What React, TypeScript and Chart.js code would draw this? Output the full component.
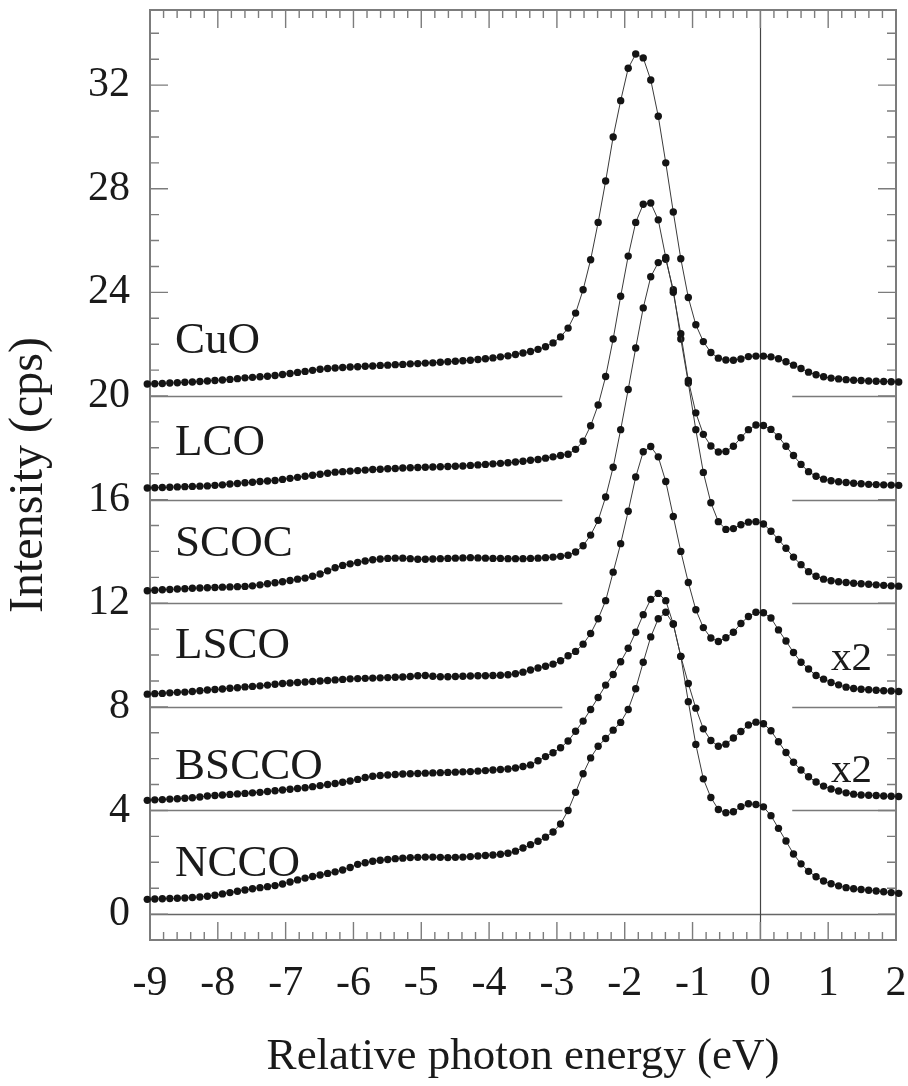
import React, { useEffect, useRef } from "react";
import { Chart, registerables } from "chart.js";

Chart.register(...registerables);

// ---- data -------------------------------------------------------------
const energyStart = -9.04;
const energyStep = 0.1108;
const pointCount = 101;
const energies = Array.from({ length: pointCount }, (_, i) => +(energyStart + i * energyStep).toFixed(4));

const xTickValues = [-9, -8, -7, -6, -5, -4, -3, -2, -1, 0, 1, 2];
const yTickValues = [0, 4, 8, 12, 16, 20, 24, 28, 32];

const cuo = [
  20.46, 20.47, 20.48, 20.5, 20.51, 20.53, 20.54, 20.56, 20.58, 20.6,
  20.62, 20.64, 20.67, 20.7, 20.72, 20.74, 20.76, 20.79, 20.83, 20.87,
  20.91, 20.95, 20.99, 21.03, 21.06, 21.08, 21.1, 21.12, 21.13, 21.15,
  21.16, 21.18, 21.19, 21.21, 21.22, 21.24, 21.25, 21.27, 21.28, 21.3,
  21.32, 21.34, 21.36, 21.38, 21.41, 21.44, 21.47, 21.51, 21.55, 21.6,
  21.66, 21.72, 21.8, 21.9, 22.05, 22.28, 22.62, 23.2, 24.1, 25.26,
  26.7, 28.3, 30.0, 31.4, 32.65, 33.2, 33.05, 32.2, 30.8, 29.0,
  27.1, 25.3, 23.8, 22.75, 22.1, 21.68, 21.46, 21.39, 21.38, 21.43,
  21.52, 21.54, 21.54, 21.51, 21.44, 21.32, 21.19, 21.06, 20.92, 20.82,
  20.74, 20.69, 20.66, 20.63, 20.61, 20.6, 20.58, 20.57, 20.56, 20.55,
  20.54,
];

const lco = [
  16.45, 16.46, 16.47, 16.48, 16.49, 16.5, 16.51, 16.52, 16.53, 16.55,
  16.57, 16.6, 16.62, 16.65, 16.67, 16.7, 16.72, 16.74, 16.78, 16.82,
  16.86, 16.9, 16.94, 16.98, 17.02, 17.06, 17.08, 17.1, 17.12, 17.14,
  17.16, 17.17, 17.19, 17.2, 17.22, 17.23, 17.24, 17.25, 17.26, 17.27,
  17.28, 17.29, 17.3, 17.32, 17.34, 17.36, 17.38, 17.4, 17.42, 17.45,
  17.48, 17.52, 17.55, 17.6, 17.65, 17.7, 17.75, 17.94, 18.25, 18.85,
  19.65, 20.75, 22.2, 23.85, 25.4, 26.7, 27.4, 27.45, 26.8, 25.35,
  24.0, 22.4, 20.6, 19.35, 18.52, 18.07, 17.84, 17.86, 18.06, 18.39,
  18.7, 18.88, 18.86, 18.71, 18.43, 18.06, 17.7, 17.36, 17.08, 16.9,
  16.79, 16.73, 16.69, 16.66, 16.63, 16.61, 16.59, 16.58, 16.57, 16.56,
  16.55,
];

const scoc = [
  12.48, 12.5, 12.52, 12.53, 12.55, 12.56, 12.58, 12.59, 12.6, 12.61,
  12.62, 12.63, 12.64, 12.65, 12.67, 12.71, 12.75, 12.79, 12.83, 12.88,
  12.93, 12.97, 13.04, 13.13, 13.25, 13.37, 13.46, 13.52, 13.57, 13.63,
  13.68, 13.71, 13.73, 13.74, 13.74, 13.72, 13.7, 13.7, 13.71, 13.72,
  13.73, 13.74, 13.75, 13.76, 13.75, 13.74, 13.73, 13.73, 13.72, 13.72,
  13.72, 13.73, 13.74, 13.76, 13.78, 13.81, 13.85, 13.98, 14.22, 14.63,
  15.2, 16.1, 17.25, 18.7, 20.25, 21.85, 23.4, 24.6, 25.15, 25.28,
  24.1, 22.2, 20.5, 18.7, 17.05, 15.88, 15.15, 14.85, 14.88, 15.03,
  15.13, 15.15, 15.06, 14.78, 14.46, 14.12, 13.78, 13.49, 13.22, 13.04,
  12.93, 12.87, 12.83, 12.8, 12.77, 12.75, 12.73, 12.71, 12.69, 12.67,
  12.66,
];

const lsco = [
  8.49, 8.51, 8.52, 8.54, 8.56, 8.57, 8.59, 8.62, 8.65, 8.67,
  8.69, 8.72, 8.74, 8.77, 8.79, 8.81, 8.84, 8.87, 8.9, 8.92,
  8.94, 8.96, 8.98, 9.0, 9.02, 9.04, 9.06, 9.08, 9.09, 9.1,
  9.11, 9.12, 9.13, 9.14, 9.15, 9.17, 9.2, 9.21, 9.18, 9.16,
  9.16, 9.17, 9.18, 9.19, 9.2, 9.2, 9.21, 9.22, 9.24, 9.28,
  9.34, 9.42, 9.5, 9.57, 9.65, 9.78, 9.97, 10.14, 10.42, 10.83,
  11.4, 12.1, 13.2, 14.3, 15.55, 16.87, 17.85, 18.05, 17.65, 16.7,
  15.35, 14.0, 12.8, 11.75, 11.06, 10.66, 10.52, 10.67, 10.88, 11.22,
  11.49, 11.65, 11.63, 11.43, 10.97, 10.54, 10.1, 9.72, 9.46, 9.21,
  9.07, 8.94, 8.85, 8.76, 8.71, 8.68, 8.66, 8.64, 8.62, 8.61,
  8.59,
];

const bscco = [
  4.39, 4.41, 4.42, 4.44, 4.45, 4.47, 4.49, 4.52, 4.56, 4.58,
  4.6, 4.62, 4.64, 4.66, 4.68, 4.7, 4.73, 4.76, 4.79, 4.82,
  4.85, 4.88, 4.92, 4.96, 5.0, 5.04, 5.09, 5.14, 5.2, 5.27,
  5.32, 5.35, 5.37, 5.39, 5.41, 5.42, 5.43, 5.44, 5.45, 5.46,
  5.47, 5.48, 5.49, 5.5, 5.52, 5.54, 5.56, 5.58, 5.6, 5.64,
  5.7, 5.76, 5.92, 6.08, 6.23, 6.42, 6.68, 7.06, 7.45, 7.9,
  8.36, 8.84, 9.25, 9.74, 10.26, 10.88, 11.56, 12.15, 12.38, 12.1,
  11.2, 9.95, 8.9, 7.95, 7.15, 6.7, 6.48, 6.56, 6.8, 7.05,
  7.3, 7.41, 7.35, 7.08, 6.65, 6.24, 5.86, 5.56, 5.3, 5.1,
  4.94, 4.83, 4.75, 4.68, 4.63, 4.6, 4.59, 4.58, 4.56, 4.55,
  4.54,
];

const ncco = [
  0.57, 0.58, 0.59, 0.6, 0.61, 0.62, 0.64, 0.66, 0.69, 0.73,
  0.78, 0.83, 0.88, 0.93, 0.98, 1.02, 1.06, 1.1, 1.16, 1.24,
  1.32, 1.39, 1.45, 1.51, 1.57, 1.63, 1.7, 1.8, 1.92, 1.98,
  2.04, 2.08, 2.11, 2.14, 2.16, 2.18, 2.19, 2.2, 2.2, 2.19,
  2.18, 2.19, 2.2, 2.22, 2.24, 2.26, 2.28, 2.31, 2.35, 2.43,
  2.55, 2.68, 2.81, 2.97, 3.17, 3.48, 4.0, 4.7, 5.42, 6.03,
  6.48, 6.78, 7.1, 7.4, 7.9, 8.7, 9.72, 10.7, 11.4, 11.65,
  11.2, 9.95, 8.2, 6.55, 5.22, 4.5, 4.04, 3.91, 3.95, 4.15,
  4.26, 4.23, 4.14, 3.8, 3.31, 2.82, 2.32, 1.94, 1.65, 1.44,
  1.28, 1.17, 1.09, 1.02, 0.98, 0.95, 0.92, 0.89, 0.86, 0.83,
  0.8,
];

const seriesNames = ["CuO", "LCO", "SCOC", "LSCO", "BSCCO", "NCCO"];
const seriesValues = [cuo, lco, scoc, lsco, bscco, ncco];

// baselines (offset zero levels) drawn as broken horizontal rules
const baselineLevels = [4, 8, 12, 16, 20];
const baselineGapFrom = -2.92;
const baselineGapTo = 0.47;

// text annotations (data coordinates of the text's left/baseline)
const annotationTexts = ["CuO", "LCO", "SCOC", "LSCO", "BSCCO", "NCCO", "x2", "x2"];
const annotationX = [-8.63, -8.63, -8.63, -8.63, -8.63, -8.63, 1.04, 1.04];
const annotationY = [21.66, 17.72, 13.82, 9.88, 5.21, 1.47, 9.42, 5.1];

// ---- styling ----------------------------------------------------------
const FONT = "'Liberation Serif', 'Times New Roman', Times, serif";
const TEXT_COLOR = "#1a1a1a";
const FRAME_COLOR = "#7c7c7c";

const decorPlugin = {
  id: "decor",
  beforeDatasetsDraw(chart: any) {
    const { ctx, chartArea: a, scales } = chart;
    const x = scales.x;
    const y = scales.y;
    ctx.save();

    // broken baselines
    ctx.strokeStyle = "#7a7a7a";
    ctx.lineWidth = 1.5;
    const gx0 = x.getPixelForValue(baselineGapFrom);
    const gx1 = x.getPixelForValue(baselineGapTo);
    for (const lv of baselineLevels) {
      const py = Math.round(y.getPixelForValue(lv)) + 0.5;
      ctx.beginPath();
      ctx.moveTo(a.left, py);
      ctx.lineTo(gx0, py);
      ctx.moveTo(gx1, py);
      ctx.lineTo(a.right, py);
      ctx.stroke();
    }
    // zero line
    const y0 = Math.round(y.getPixelForValue(0)) + 0.5;
    ctx.strokeStyle = "#666";
    ctx.lineWidth = 1.6;
    ctx.beginPath();
    ctx.moveTo(a.left, y0);
    ctx.lineTo(a.right, y0);
    ctx.stroke();

    // vertical line at zero energy
    const x0 = Math.round(x.getPixelForValue(0)) + 0.5;
    ctx.strokeStyle = "#444";
    ctx.lineWidth = 1.2;
    ctx.beginPath();
    ctx.moveTo(x0, a.top);
    ctx.lineTo(x0, a.bottom);
    ctx.stroke();

    // ticks (inside, all four sides)
    ctx.strokeStyle = FRAME_COLOR;
    ctx.lineWidth = 1.4;
    ctx.beginPath();
    for (let k = -45; k <= 10; k++) {
      const v = k / 5;
      const px = x.getPixelForValue(v);
      const len = k % 5 === 0 ? 18 : 8;
      ctx.moveTo(px, a.bottom);
      ctx.lineTo(px, a.bottom - len);
      ctx.moveTo(px, a.top);
      ctx.lineTo(px, a.top + len);
    }
    for (let v = 0; v <= 34; v++) {
      const py = y.getPixelForValue(v);
      const len = v % 4 === 0 ? 18 : 9;
      ctx.moveTo(a.left, py);
      ctx.lineTo(a.left + len, py);
      ctx.moveTo(a.right, py);
      ctx.lineTo(a.right - len, py);
    }
    ctx.stroke();

    // frame
    ctx.strokeStyle = FRAME_COLOR;
    ctx.lineWidth = 2;
    ctx.strokeRect(a.left, a.top, a.right - a.left, a.bottom - a.top);
    ctx.restore();
  },
  afterDatasetsDraw(chart: any) {
    const { ctx, scales } = chart;
    const x = scales.x;
    const y = scales.y;
    ctx.save();
    ctx.fillStyle = TEXT_COLOR;
    ctx.textAlign = "left";
    ctx.textBaseline = "alphabetic";
    annotationTexts.forEach((t, i) => {
      ctx.font = `${t === "x2" ? 41 : 45}px ${FONT}`;
      ctx.fillText(t, x.getPixelForValue(annotationX[i]), y.getPixelForValue(annotationY[i]));
    });
    ctx.restore();
  },
};

export default function App() {
  const canvasRef = useRef<HTMLCanvasElement | null>(null);

  useEffect(() => {
    const canvas = canvasRef.current;
    if (!canvas) return;
    const datasets = seriesNames.map((name, si) => ({
      label: name,
      data: energies.map((e, i) => ({ x: e, y: seriesValues[si][i] })),
      borderColor: "#3a3a3a",
      borderWidth: 1,
      pointRadius: 3.7,
      pointBackgroundColor: "#141414",
      pointBorderColor: "#141414",
      pointBorderWidth: 0,
      pointHoverRadius: 3.7,
      tension: 0,
      fill: false,
      clip: false as any,
    }));

    const chart = new Chart(canvas, {
      type: "line",
      data: { datasets },
      options: {
        animation: false,
        responsive: false,
        maintainAspectRatio: false,
        events: [],
        layout: { padding: { top: 10, right: 12, left: 0, bottom: 0 } },
        plugins: {
          legend: { display: false },
          tooltip: { enabled: false },
        },
        scales: {
          x: {
            type: "linear",
            min: -9,
            max: 2,
            afterBuildTicks: (s: any) => {
              s.ticks = xTickValues.map((v) => ({ value: v }));
            },
            afterFit: (s: any) => {
              s.height = 146;
              s.paddingLeft = 0;
              s.paddingRight = 0;
            },
            grid: { display: false, drawTicks: false },
            border: { display: false },
            ticks: {
              autoSkip: false,
              maxRotation: 0,
              minRotation: 0,
              padding: 19,
              color: TEXT_COLOR,
              font: { family: FONT, size: 42 },
              callback: (v: any) => String(v),
            },
            title: {
              display: true,
              text: "Relative photon energy (eV)",
              color: TEXT_COLOR,
              font: { family: FONT, size: 45 },
              padding: { top: 0, bottom: 2 },
            },
          },
          y: {
            type: "linear",
            min: -1,
            max: 34.9,
            afterBuildTicks: (s: any) => {
              s.ticks = yTickValues.map((v) => ({ value: v }));
            },
            afterFit: (s: any) => {
              s.width = 150;
              s.paddingTop = 0;
              s.paddingBottom = 0;
            },
            grid: { display: false, drawTicks: false },
            border: { display: false },
            ticks: {
              autoSkip: false,
              padding: 20,
              color: TEXT_COLOR,
              font: { family: FONT, size: 42 },
              callback: (v: any) => String(v),
            },
            title: {
              display: true,
              text: "Intensity (cps)",
              color: TEXT_COLOR,
              font: { family: FONT, size: 48 },
              padding: { top: 1, bottom: 0 },
            },
          },
        },
      },
      plugins: [decorPlugin],
    });
    return () => chart.destroy();
  }, []);

  return (
    <div style={{ position: "absolute", left: 0, top: 0, width: 908, height: 1086, background: "#fff" }}>
      <canvas ref={canvasRef} width={908} height={1086} style={{ display: "block" }} />
    </div>
  );
}
